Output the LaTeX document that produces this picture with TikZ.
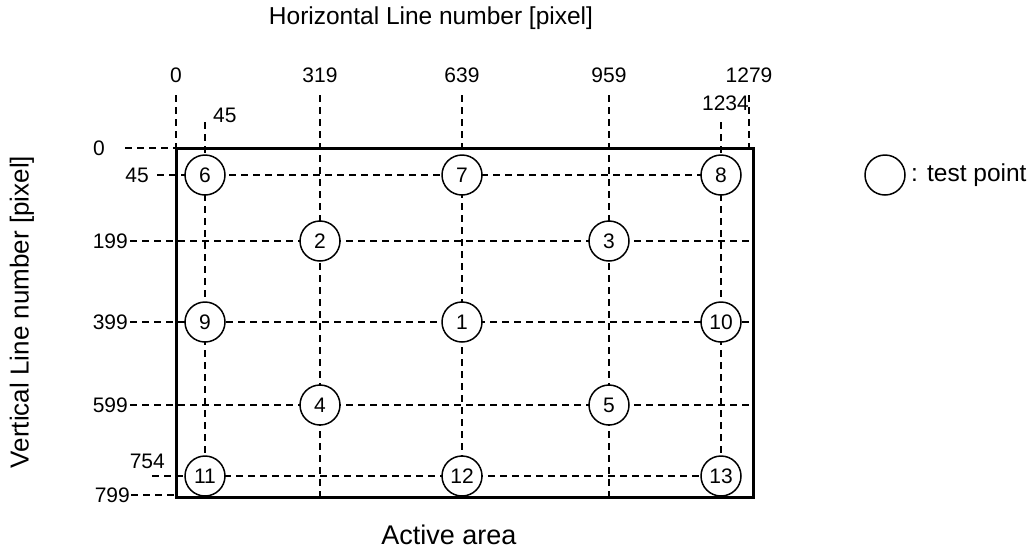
\documentclass[tikz,border=0pt]{standalone}
\usepackage{fontspec}
\setmainfont{Liberation Sans}
\begin{document}
\begin{tikzpicture}[x=1pt,y=-1pt,
  dsh/.style={dashed,dash pattern=on 7pt off 5pt,line width=1.5pt},
  tp/.style={circle,draw,line width=1.5pt,fill=white,minimum size=40pt,inner sep=0pt,font=\fontsize{21}{21}\selectfont},
  lbl/.style={font=\fontsize{21}{21}\selectfont,inner sep=1pt},
  big/.style={font=\fontsize{24.5}{24.5}\selectfont}]
\useasboundingbox (0,0) rectangle (1032,550);
\coordinate (v0t) at (176,95);   \coordinate (v0b) at (176,148);
\coordinate (v45t) at (205,122); \coordinate (v45b) at (205,476);
\coordinate (v319t) at (320,95); \coordinate (v319b) at (320,496);
\coordinate (v639t) at (462,95); \coordinate (v639b) at (462,496);
\coordinate (v959t) at (609,95); \coordinate (v959b) at (609,496);
\coordinate (v1234t) at (721,122); \coordinate (v1234b) at (721,476);
\coordinate (v1279t) at (749,95); \coordinate (v1279b) at (749,148);
\coordinate (h0l) at (125,148); \coordinate (h0r) at (176,148);
\coordinate (h45l) at (157,175); \coordinate (h45r) at (721,175);
\coordinate (h199l) at (130,241); \coordinate (h199r) at (753,241);
\coordinate (h399l) at (130,322); \coordinate (h399r) at (753,322);
\coordinate (h599l) at (130,405); \coordinate (h599r) at (753,405);
\coordinate (h754l) at (152,476); \coordinate (h754r) at (721,476);
\coordinate (h799l) at (131,495); \coordinate (h799r) at (176,495);
\draw[dsh] (v0t) -- (v0b);
\draw[dsh] (v45t) -- (v45b);
\draw[dsh] (v319t) -- (v319b);
\draw[dsh] (v639t) -- (v639b);
\draw[dsh] (v959t) -- (v959b);
\draw[dsh] (v1234t) -- (v1234b);
\draw[dsh] (v1279t) -- (v1279b);
\draw[dsh] (h0l) -- (h0r);
\draw[dsh] (h45l) -- (h45r);
\draw[dsh] (h199l) -- (h199r);
\draw[dsh] (h399l) -- (h399r);
\draw[dsh] (h599l) -- (h599r);
\draw[dsh] (h754l) -- (h754r);
\draw[dsh] (h799l) -- (h799r);
% active area
\node[draw,line width=3pt,minimum width=577pt,minimum height=349pt,inner sep=0pt] (area) at (464.5,322.5) {};
% test points
\node[tp] (p6) at (205,175) {6};
\node[tp] (p7) at (462,175) {7};
\node[tp] (p8) at (721,175) {8};
\node[tp] (p2) at (320,241) {2};
\node[tp] (p3) at (609,241) {3};
\node[tp] (p9) at (205,322) {9};
\node[tp] (p1) at (462,322) {1};
\node[tp] (p10) at (721,322) {10};
\node[tp] (p4) at (320,405) {4};
\node[tp] (p5) at (609,405) {5};
\node[tp] (p11) at (205,476) {11};
\node[tp] (p12) at (462,476) {12};
\node[tp] (p13) at (721,476) {13};
% top labels
\node[lbl] (t0) at (176,75) {0};
\node[lbl] (t319) at (320,75) {319};
\node[lbl] (t639) at (462,75) {639};
\node[lbl] (t959) at (609,75) {959};
\node[lbl] (t1279) at (749,75) {1279};
\node[lbl,anchor=west] (t45) at (212,115) {45};
\node[lbl,anchor=east] (t1234) at (750,103) {1234};
% left labels
\node[lbl,anchor=east] (l0) at (106,148) {0};
\node[lbl,anchor=east] (l45) at (150,175) {45};
\node[lbl,anchor=east] (l199) at (129,241) {199};
\node[lbl,anchor=east] (l399) at (129,322) {399};
\node[lbl,anchor=east] (l599) at (129,405) {599};
\node[lbl,anchor=east] (l754) at (166,461) {754};
\node[lbl,anchor=east] (l799) at (131,495) {799};
% titles
\node[big] (htitle) at (431,18) {Horizontal Line number [pixel]};
\node[font=\fontsize{26}{26}\selectfont,rotate=90] (vtitle) at (22,312) {Vertical Line number [pixel]};
\node[font=\fontsize{27}{27}\selectfont] (atitle) at (449,535) {Active area};
% legend
\node[tp] (leg) at (885,175) {};
\node[big,anchor=west,inner sep=1pt] (legt) at (910,175) {: test point};
\end{tikzpicture}
\end{document}
